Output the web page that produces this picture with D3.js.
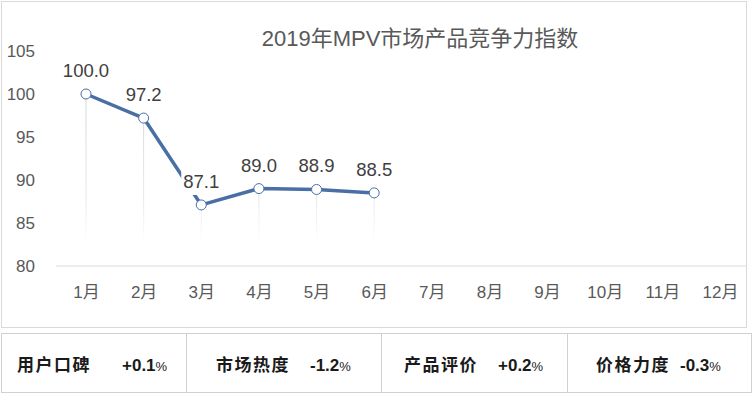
<!DOCTYPE html>
<html>
<head>
<meta charset="utf-8">
<script src="https://cdn.jsdelivr.net/npm/d3@7"></script>
<style>
  html, body { margin: 0; padding: 0; background: #fff; }
  #chart { width: 754px; height: 395px; }
</style>
</head>
<body>
<div id="chart"></div>
<script>
// ── Data ─────────────────────────────────────────────
var months = ['1月','2月','3月','4月','5月','6月','7月','8月','9月','10月','11月','12月'];
var indexValues = [100.0, 97.2, 87.1, 89.0, 88.9, 88.5];
var yTicks = [80, 85, 90, 95, 100, 105];
var title = '2019年MPV市场产品竞争力指数';
var metricNames  = ['用户口碑', '市场热度', '产品评价', '价格力度'];
var metricDeltas = ['+0.1', '-1.2', '+0.2', '-0.3'];

var LINE_COLOR = '#4a6fa6';
var FONT = '"Liberation Sans", Arial, "Noto Sans CJK SC", sans-serif';

var W = 754, H = 395;
var svg = d3.select('#chart').append('svg')
  .attr('width', W).attr('height', H)
  .style('display', 'block');

// ── Frames ───────────────────────────────────────────
svg.append('rect')
  .attr('x', 1.5).attr('y', 1.5).attr('width', 745).attr('height', 326)
  .attr('fill', '#fff').attr('stroke', '#d9d9d9').attr('stroke-width', 1);

var x = d3.scalePoint().domain(months).range([86, 720]);
var y = d3.scaleLinear().domain([80, 105]).range([266, 51]);

// Title
svg.append('text')
  .attr('x', 420).attr('y', 46)
  .attr('text-anchor', 'middle')
  .attr('fill', '#595959')
  .attr('font-family', FONT)
  .attr('font-size', '22px')
  .text(title);

// Gridline at base
svg.append('line')
  .attr('x1', 56).attr('x2', 746)
  .attr('y1', y(80)).attr('y2', y(80))
  .attr('stroke', '#d9d9d9').attr('stroke-width', 1);

// Y axis labels
var yAxis = d3.axisLeft(y).tickValues(yTicks).tickSize(0).tickPadding(0);
var yg = svg.append('g').attr('transform', 'translate(35,0)').call(yAxis);
yg.select('.domain').remove();
yg.selectAll('text')
  .attr('fill', '#595959')
  .attr('font-family', FONT)
  .attr('font-size', '17px');

// X axis labels
var xAxis = d3.axisBottom(x).tickSize(0).tickPadding(0);
var xg = svg.append('g').attr('transform', 'translate(0,' + 286 + ')').call(xAxis);
xg.select('.domain').remove();
xg.selectAll('text')
  .attr('fill', '#595959')
  .attr('font-family', FONT)
  .attr('font-size', '17px');

// ── Drop lines (fading) ──────────────────────────────
var defs = svg.append('defs');
var grad = defs.append('linearGradient')
  .attr('id', 'dropFade')
  .attr('gradientUnits', 'userSpaceOnUse')
  .attr('x1', 0).attr('y1', 90).attr('x2', 0).attr('y2', 245);
grad.append('stop').attr('offset', '0%').attr('stop-color', '#d4d4d4');
grad.append('stop').attr('offset', '70%').attr('stop-color', '#e8e8e8');
grad.append('stop').attr('offset', '100%').attr('stop-color', '#ffffff');

var pts = indexValues.map(function(v, i) { return { m: months[i], v: v }; });

svg.append('g').selectAll('line')
  .data(pts).enter().append('line')
  .attr('x1', function(d) { return x(d.m); })
  .attr('x2', function(d) { return x(d.m) + 0.01; })
  .attr('y1', function(d) { return y(d.v); })
  .attr('y2', 245)
  .attr('stroke', 'url(#dropFade)')
  .attr('stroke-width', 1);

// ── Line ─────────────────────────────────────────────
var line = d3.line()
  .x(function(d) { return x(d.m); })
  .y(function(d) { return y(d.v); });

svg.append('path')
  .datum(pts)
  .attr('d', line)
  .attr('fill', 'none')
  .attr('stroke', LINE_COLOR)
  .attr('stroke-width', 3.5)
  .attr('stroke-linejoin', 'round');

// ── Data labels (white box behind, like Excel) ───────
var lblG = svg.append('g').selectAll('g')
  .data(pts).enter().append('g')
  .attr('transform', function(d) { return 'translate(' + x(d.m) + ',' + (y(d.v) - 17) + ')'; });

var lblRect = lblG.append('rect').attr('fill', '#fff');

lblG.append('text')
  .attr('text-anchor', 'middle')
  .attr('fill', '#404040')
  .attr('font-family', FONT)
  .attr('font-size', '18.5px')
  .text(function(d) { return d.v.toFixed(1); })
  .each(function() {
    var bb = this.getBBox();
    d3.select(this.previousSibling)
      .attr('x', bb.x - 2).attr('y', -17)
      .attr('width', bb.width + 4).attr('height', 24);
  });

// ── Markers ──────────────────────────────────────────
svg.append('g').selectAll('circle')
  .data(pts).enter().append('circle')
  .attr('cx', function(d) { return x(d.m); })
  .attr('cy', function(d) { return y(d.v); })
  .attr('r', 5)
  .attr('fill', '#fff')
  .attr('stroke', LINE_COLOR)
  .attr('stroke-width', 1);

// ── Bottom metrics panel ─────────────────────────────
var cellEdges = [1.5, 186.5, 381.5, 567.5, 751.5];
var panelTop = 333.5, panelBot = 392.5;

svg.append('rect')
  .attr('x', cellEdges[0]).attr('y', panelTop)
  .attr('width', cellEdges[4] - cellEdges[0]).attr('height', panelBot - panelTop)
  .attr('fill', '#fff').attr('stroke', '#d0d0d0').attr('stroke-width', 1);

svg.append('g').selectAll('line')
  .data(cellEdges.slice(1, 4)).enter().append('line')
  .attr('x1', function(d) { return d; }).attr('x2', function(d) { return d; })
  .attr('y1', panelTop).attr('y2', panelBot)
  .attr('stroke', '#d0d0d0').attr('stroke-width', 1);

var nameX  = [17, 216, 404, 596];
var deltaX = [122, 310, 498, 680];

var metrics = metricNames.map(function(n, i) { return { name: n, delta: metricDeltas[i], i: i }; });

var mg = svg.append('g').selectAll('g')
  .data(metrics).enter().append('g');

mg.append('text')
  .attr('x', function(d) { return nameX[d.i]; })
  .attr('y', 371)
  .attr('fill', '#1a1a1a')
  .attr('font-family', '"Noto Sans CJK SC", sans-serif')
  .attr('font-weight', 'bold')
  .attr('font-size', '17px')
  .attr('letter-spacing', '1.5px')
  .text(function(d) { return d.name; });

var dt = mg.append('text')
  .attr('x', function(d) { return deltaX[d.i]; })
  .attr('y', 371)
  .attr('fill', '#1a1a1a')
  .attr('font-family', FONT)
  .attr('font-weight', 'bold')
  .attr('font-size', '17px');
dt.append('tspan').text(function(d) { return d.delta; });
dt.append('tspan').attr('font-size', '13px').attr('font-weight', 'normal').text('%');
</script>
</body>
</html>
